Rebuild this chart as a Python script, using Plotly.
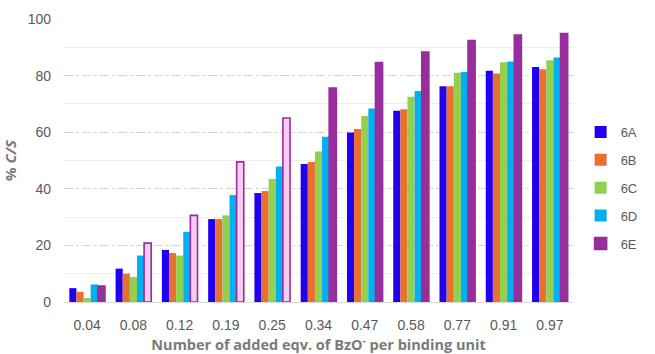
import plotly.graph_objects as go

# Equivalents of BzO- added per binding unit (category labels)
equivalents = ["0.04", "0.08", "0.12", "0.19", "0.25", "0.34",
               "0.47", "0.58", "0.77", "0.91", "0.97"]

# % C/S for each receptor
cs_6A = [4.9, 11.8, 18.4, 29.3, 38.5, 48.8, 59.9, 67.6, 76.2, 81.7, 83.0]
cs_6B = [3.6, 10.0, 17.3, 29.3, 39.2, 49.5, 61.1, 68.1, 76.2, 80.7, 82.2]
cs_6C = [1.4, 8.9, 16.4, 30.6, 43.5, 53.2, 65.7, 72.5, 81.0, 84.7, 85.4]
cs_6D = [6.2, 16.4, 24.8, 37.8, 47.9, 58.4, 68.4, 74.6, 81.3, 85.0, 86.4]
cs_6E = [5.6, 20.8, 30.6, 49.5, 65.0, 75.6, 84.6, 88.3, 92.4, 94.3, 94.9]

# 6E points drawn as open (light-filled) bars
open_6E = {"0.08", "0.12", "0.19", "0.25"}

BLUE = "#2100F0"
ORANGE = "#EA7030"
GREEN = "#92D050"
CYAN = "#00B0F0"
PURPLE = "#982E9C"
PINK = "#F8CBF2"

series = [
    ("6A", cs_6A, BLUE),
    ("6B", cs_6B, ORANGE),
    ("6C", cs_6C, GREEN),
    ("6D", cs_6D, CYAN),
]

fig = go.Figure()
for name, vals, col in series:
    fig.add_trace(go.Bar(
        x=equivalents, y=vals, name=name, legendgroup=name,
        marker=dict(color=col, line=dict(width=0)),
    ))

fill_6E = [PINK if e in open_6E else PURPLE for e in equivalents]
fig.add_trace(go.Bar(
    x=equivalents, y=cs_6E, name="6E", legendgroup="6E",
    marker=dict(color=fill_6E, line=dict(color=PURPLE, width=1.6)),
))

TICK_GRAY = "#595959"
TITLE_GRAY = "#7a7a7a"

fig.update_layout(
    width=655, height=354,
    margin=dict(l=64, r=59, t=19, b=52),
    paper_bgcolor="white", plot_bgcolor="white",
    barmode="group", bargap=0.23, bargroupgap=0,
    font=dict(family="Liberation Sans, Arial, sans-serif", color=TICK_GRAY),
    legend=dict(
        x=1.015, xanchor="left", y=0.403, yanchor="middle",
        font=dict(size=13, color=TICK_GRAY),
        traceorder="grouped", tracegroupgap=8,
        bgcolor="rgba(0,0,0,0)",
    ),
    xaxis=dict(
        type="category", automargin=False,
        tickfont=dict(size=14, color=TICK_GRAY),
        ticks="", ticklabelstandoff=10,
        showline=True, linecolor="#d9d9d9", linewidth=1,
        title=dict(
            text="Number of added eqv. of BzO<sup>-</sup> per binding unit",
            font=dict(family="Open Sans, Noto Sans, sans-serif", size=14.5,
                      color=TITLE_GRAY, weight="bold"),
            standoff=5,
        ),
    ),
    yaxis=dict(
        range=[0, 100], dtick=20, automargin=False,
        tickfont=dict(size=14, color=TICK_GRAY),
        ticks="", ticklabelstandoff=12,
        showgrid=True, gridcolor="#d4d4d4", griddash="dashdot", gridwidth=1,
        minor=dict(dtick=10, showgrid=True, gridcolor="#eeeeee",
                   griddash="solid", gridwidth=1),
        zeroline=False,
        title=dict(
            text="% <i>C/S</i>",
            font=dict(family="Open Sans, Noto Sans, sans-serif", size=15,
                      color=TITLE_GRAY, weight="bold"),
            standoff=10,
        ),
    ),
)

fig.write_html("out.html")
